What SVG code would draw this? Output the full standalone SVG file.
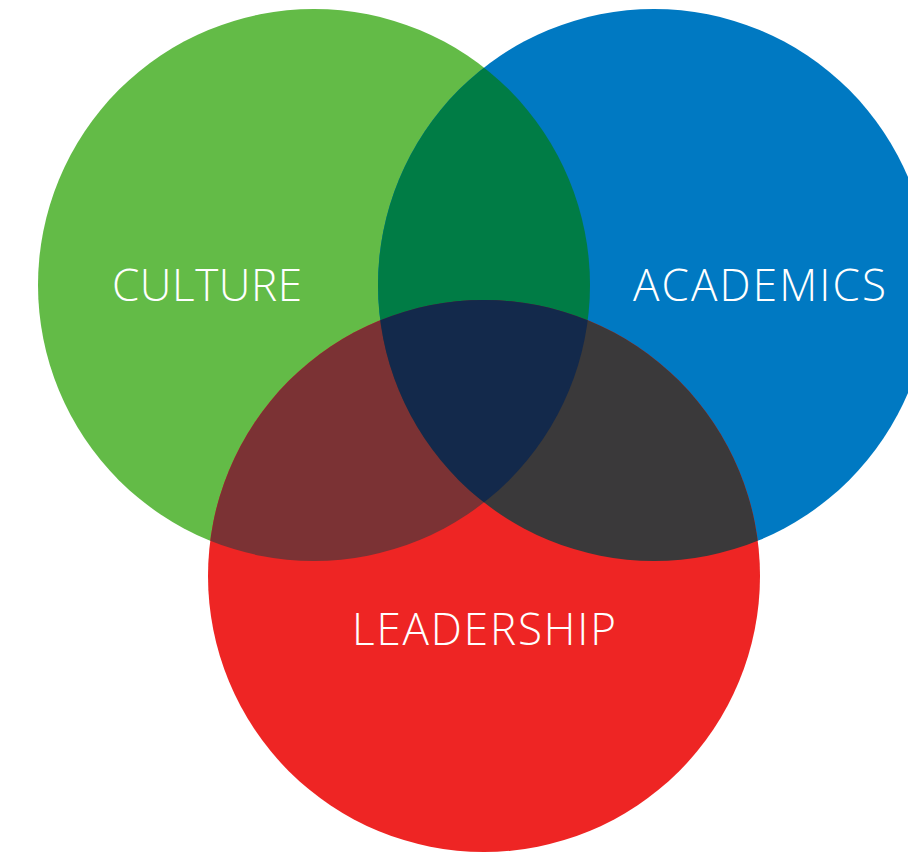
<svg xmlns="http://www.w3.org/2000/svg" width="908" height="852" viewBox="0 0 908 852">
  <style>
    .lbl { font-family: "Open Sans", "Liberation Sans", sans-serif; font-size: 44px; fill: #ffffff; font-weight: 300; }
  </style>
  <defs>
    <clipPath id="clipG"><circle cx="314" cy="285" r="276"/></clipPath>
    <clipPath id="clipB"><circle cx="654" cy="285" r="276"/></clipPath>
  </defs>
  <rect width="908" height="852" fill="#ffffff"/>
  <g id="culture">
    <circle cx="314" cy="285" r="276" fill="#63bb47"/>
  </g>
  <g id="academics">
    <circle cx="654" cy="285" r="276" fill="#0079c2"/>
  </g>
  <g id="leadership">
    <circle cx="484" cy="576" r="276" fill="#ee2524"/>
  </g>
  <g id="overlaps">
    <circle cx="654" cy="285" r="276" fill="#007c45" clip-path="url(#clipG)"/>
    <circle cx="484" cy="576" r="276" fill="#7b3234" clip-path="url(#clipG)"/>
    <circle cx="484" cy="576" r="276" fill="#3a393a" clip-path="url(#clipB)"/>
    <g clip-path="url(#clipB)">
      <circle cx="484" cy="576" r="276" fill="#13294b" clip-path="url(#clipG)"/>
    </g>
  </g>
  <g id="labels">
    <text class="lbl" x="112" y="301" textLength="190" lengthAdjust="spacing">CULTURE</text>
    <text class="lbl" x="633" y="301" textLength="253" lengthAdjust="spacing">ACADEMICS</text>
    <text class="lbl" x="352" y="645" textLength="264" lengthAdjust="spacing">LEADERSHIP</text>
  </g>
  <g id="connectors"/>
</svg>
